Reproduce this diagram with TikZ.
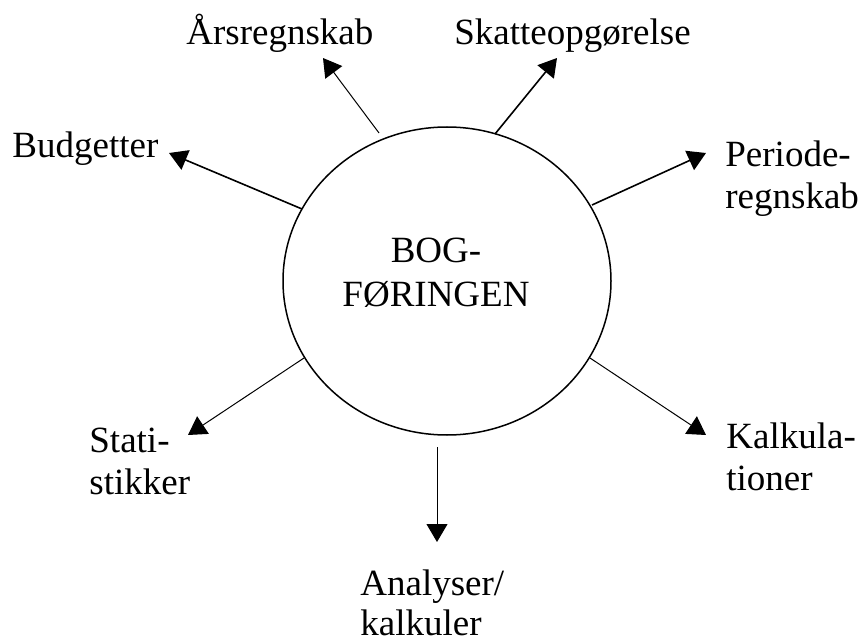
\documentclass[tikz,border=0pt]{standalone}
\usepackage{fontspec}
\setmainfont{Liberation Serif}
\usetikzlibrary{arrows.meta,shapes.geometric}

\begin{document}
\begin{tikzpicture}[x=0.5pt,y=-0.5pt,
  lbl/.style={anchor=base west,inner sep=0pt,align=left,font=\fontsize{18.5}{21}\selectfont},
  pil/.style={-{Triangle[length=9pt,width=10.5pt]},line width=0.5pt},
  tykpil/.style={pil,line width=0.8pt}]
\useasboundingbox (0,0) rectangle (863,642);
\node[ellipse,draw,line width=0.75pt,minimum width=164pt,minimum height=154pt,inner sep=0pt] (bog) at (447,281) {};
\node[font=\fontsize{18.5}{22}\selectfont,align=center] (bogtxt) at (436,273) {BOG-\\FØRINGEN};

\node[lbl] (budget) at (12,158) {Budgetter};
\node[lbl] (aars) at (186,45) {Årsregnskab};
\node[lbl] (skat) at (454,45) {Skatteopgørelse};
\node[lbl] (periode) at (725,209) {Periode-\\regnskab};
\node[lbl] (kalk) at (726,490) {Kalkula-\\tioner};
\node[lbl,font=\fontsize{18.5}{20}\selectfont] (analyse) at (360,635) {Analyser/\\kalkuler};
\node[lbl] (stat) at (89,494) {Stati-\\stikker};

\coordinate (budget-s) at (302,209); \coordinate (budget-e) at (169,153);
\coordinate (aars-s) at (379,133);   \coordinate (aars-e) at (323,58);
\coordinate (skat-s) at (495,134);   \coordinate (skat-e) at (557,58);
\coordinate (periode-s) at (592,205); \coordinate (periode-e) at (706,153);
\coordinate (kalk-s) at (590,358);   \coordinate (kalk-e) at (706,435);
\coordinate (analyse-s) at (437,447); \coordinate (analyse-e) at (437,542);
\coordinate (stat-s) at (304,358);   \coordinate (stat-e) at (188,435);

\draw[tykpil] (budget-s) -- (budget-e);
\draw[pil] (aars-s) -- (aars-e);
\draw[tykpil] (skat-s) -- (skat-e);
\draw[tykpil] (periode-s) -- (periode-e);
\draw[pil] (kalk-s) -- (kalk-e);
\draw[pil] (analyse-s) -- (analyse-e);
\draw[pil] (stat-s) -- (stat-e);
\end{tikzpicture}
\end{document}
